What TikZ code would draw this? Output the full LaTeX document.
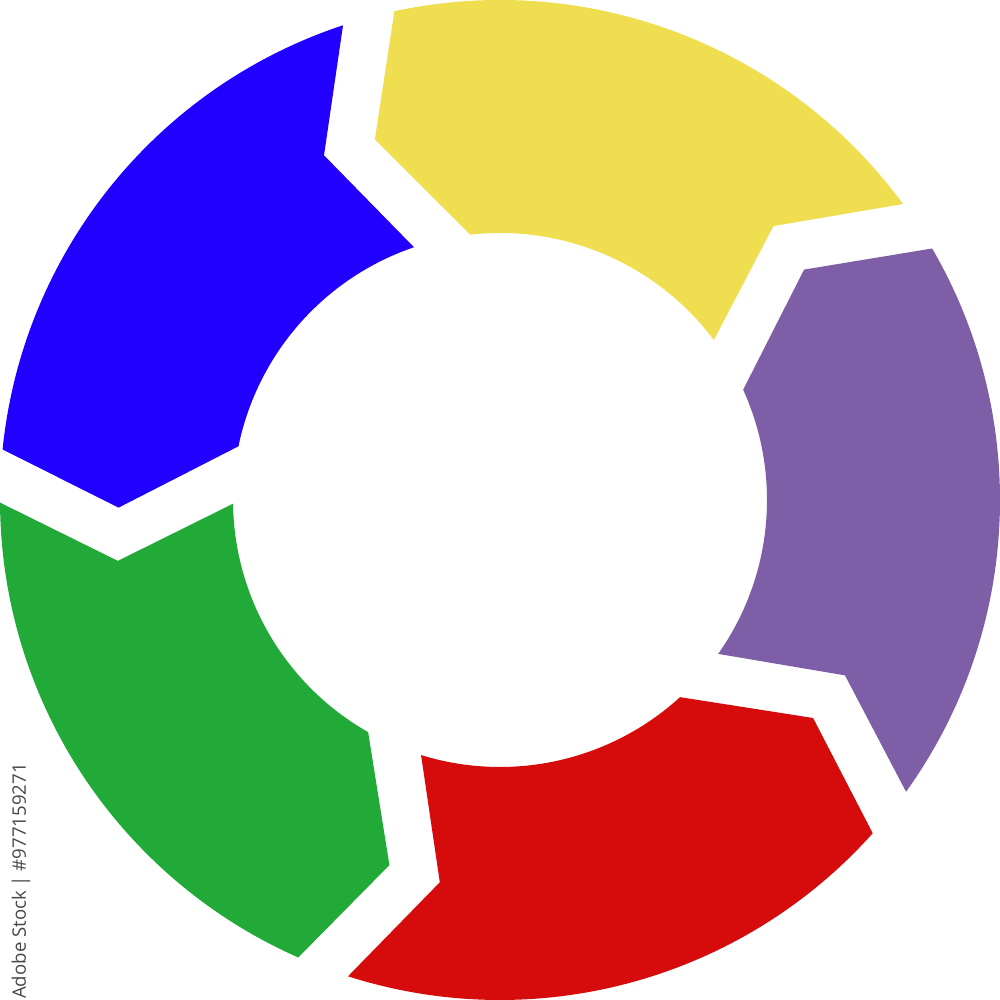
\documentclass[tikz,border=0pt]{standalone}
\usepackage{fontspec}
\newfontfamily\idfont{Open Sans}
\usetikzlibrary{calc}

\definecolor{ringyellow}{RGB}{238,222,80}
\definecolor{ringblue}{RGB}{34,0,255}
\definecolor{ringgreen}{RGB}{34,170,56}
\definecolor{ringred}{RGB}{214,12,12}
\definecolor{ringpurple}{RGB}{126,94,166}
\definecolor{idgray}{RGB}{72,72,72}

\begin{document}
\begin{tikzpicture}
\useasboundingbox (0,0) rectangle (10,10);
\coordinate (O) at (5,5);
% five arrow pieces, turning counterclockwise
\foreach \c [count=\i] in {ringyellow,ringblue,ringgreen,ringred,ringpurple} {
 \begin{scope}[shift={(O)}, rotate=72*(\i-1)]
 \fill[\c] (36.3:5) arc[start angle=36.3, end angle=102.2, radius=5]
   -- (109.15:3.815) -- (96.4:2.67)
   arc[start angle=96.4, end angle=36.8, radius=2.67]
   -- (45.05:3.87) -- cycle;
 \end{scope}
}
\node[rotate=90, text=idgray, inner sep=0, font=\idfont\fontsize{5.3}{6}\selectfont] (stockid) at (0.21,1.19) {Adobe Stock | \#977159271};
\end{tikzpicture}
\end{document}
